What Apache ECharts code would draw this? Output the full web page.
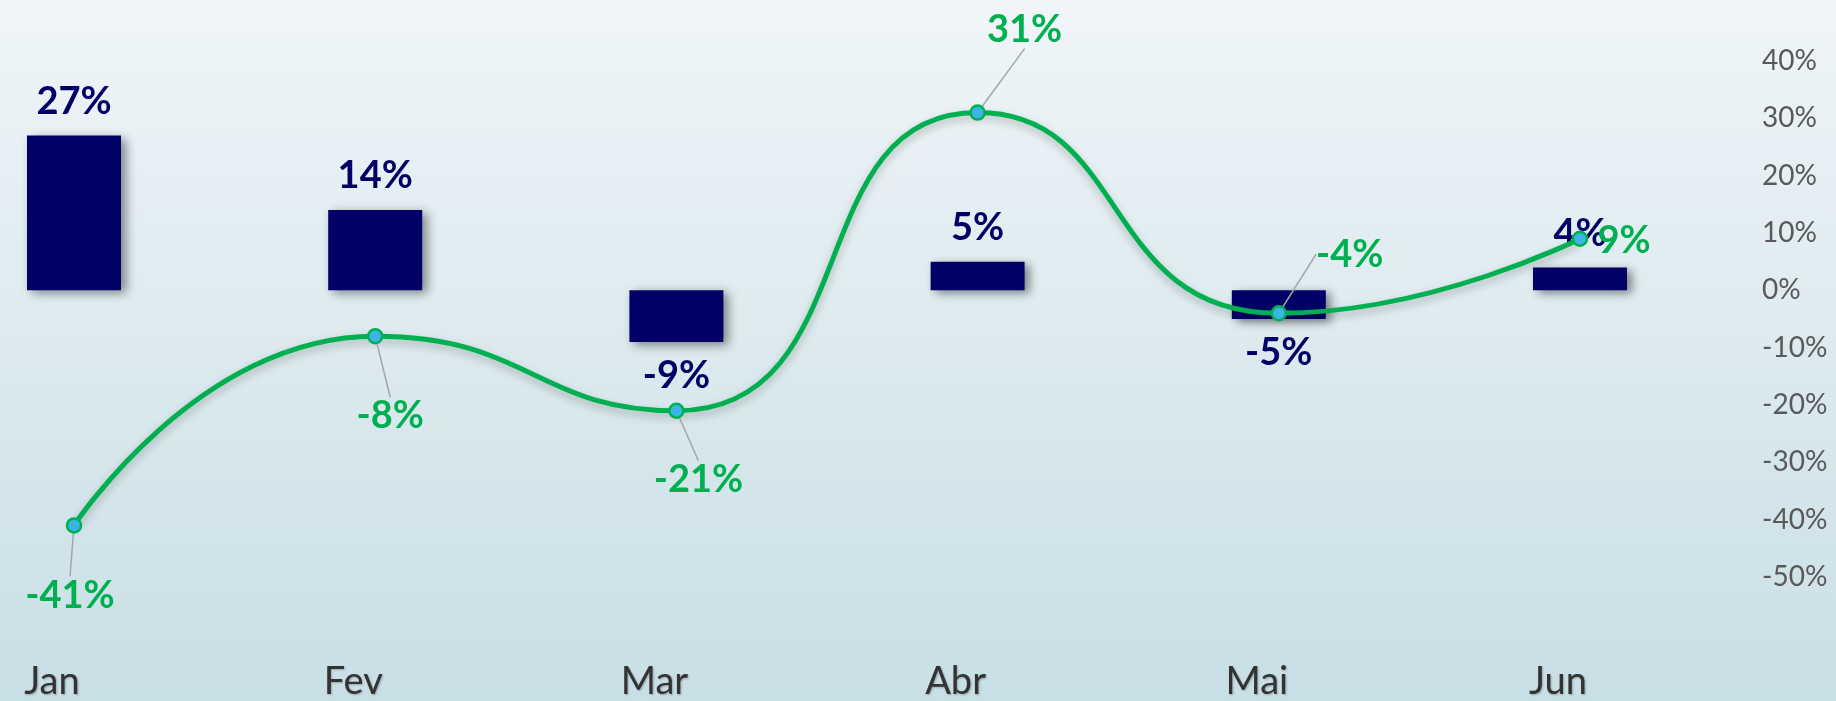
<!DOCTYPE html>
<html>
<head>
<meta charset="utf-8">
<script src="https://cdn.jsdelivr.net/npm/echarts@6/dist/echarts.min.js"></script>
<style>
html,body{margin:0;padding:0;}
#chart{width:1836px;height:701px;}
</style>
</head>
<body>
<div id="chart"></div>
<script>
const categories = ['Jan', 'Fev', 'Mar', 'Abr', 'Mai', 'Jun'];
const barValues = [27, 14, -9, 5, -5, 4];
const lineValues = [-41, -8, -21, 31, -4, 9];
const yMin = -50, yMax = 40, yStep = 10;

// label placement (style only)
const lineLabelShift = [[-4, 70], [15, 80], [22, 69], [47, -83], [71, -59], [44, 2]];
const lineLabelGuide = [true, true, true, true, true, false];

const NAVY = '#000066';
const GREEN = '#00B050';
const FONT = 'Lato, "Open Sans", sans-serif';

const chart = echarts.init(document.getElementById('chart'));

const barData = barValues.map(v => ({
  value: v,
  label: { position: v >= 0 ? 'top' : 'bottom' }
}));
const lineData = lineValues.map((v, i) => ({
  value: v,
  labelLine: { show: lineLabelGuide[i] }
}));

chart.setOption({
  backgroundColor: {
    type: 'linear', x: 0, y: 0, x2: 0, y2: 1,
    colorStops: [
      { offset: 0, color: '#F0F5F8' },
      { offset: 1, color: '#C8DFE5' }
    ]
  },
  animation: false,
  grid: { left: 74, right: 256, top: 61, bottom: 124, containLabel: false },
  xAxis: {
    type: 'category',
    data: categories,
    boundaryGap: false,
    axisLine: { show: false },
    axisTick: { show: false },
    splitLine: { show: false },
    axisLabel: {
      color: '#333333',
      fontFamily: FONT,
      fontSize: 38,
      margin: 86,
      padding: [0, 44, 0, 0],
      textShadowColor: 'rgba(0,0,0,0.25)',
      textShadowBlur: 2,
      textShadowOffsetX: 1,
      textShadowOffsetY: 1
    }
  },
  yAxis: {
    type: 'value',
    position: 'right',
    min: yMin, max: yMax, interval: yStep,
    axisLine: { show: false },
    axisTick: { show: false },
    splitLine: { show: false },
    axisLabel: {
      color: '#595959',
      fontFamily: FONT,
      fontSize: 28,
      margin: 182,
      align: 'left',
      formatter: '{value}%'
    }
  },
  series: [
    {
      type: 'bar',
      data: barData,
      barWidth: 94,
      z: 2,
      itemStyle: {
        color: NAVY,
        shadowColor: 'rgba(0,0,0,0.45)',
        shadowBlur: 10,
        shadowOffsetX: 5,
        shadowOffsetY: 3
      },
      label: {
        show: true,
        formatter: '{c}%',
        color: NAVY,
        fontFamily: FONT,
        fontWeight: 'bold',
        fontSize: 38,
        distance: 15
      }
    },
    {
      type: 'line',
      data: lineData,
      smooth: 0.55,
      z: 5,
      symbol: 'circle',
      symbolSize: 14,
      lineStyle: {
        color: GREEN,
        width: 5,
        shadowColor: 'rgba(0,0,0,0.25)',
        shadowBlur: 8,
        shadowOffsetY: 4
      },
      itemStyle: {
        color: '#3AB5E5',
        borderColor: GREEN,
        borderWidth: 2.5
      },
      label: {
        show: true,
        position: 'inside',
        formatter: '{c}%',
        color: GREEN,
        fontFamily: FONT,
        fontWeight: 'bold',
        fontSize: 38
      },
      labelLine: {
        show: true,
        lineStyle: { color: '#A6A6A6', width: 1.5 }
      },
      labelLayout: function (params) {
        const s = lineLabelShift[params.dataIndex];
        return { dx: s[0], dy: s[1] };
      }
    }
  ]
});
</script>
</body>
</html>
